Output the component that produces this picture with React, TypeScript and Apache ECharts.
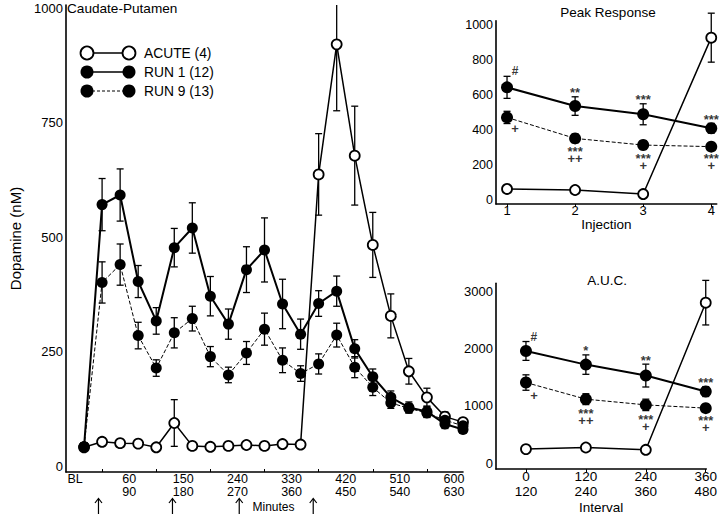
import React, { useEffect, useRef } from "react";
import * as echarts from "echarts";

const FONT = "'Liberation Sans', Arial, sans-serif";

// ---------- Main panel (Caudate-Putamen) ----------
const minutes = [0, 30, 60, 90, 120, 150, 180, 210, 240, 270, 300, 330, 360, 390, 420, 450, 480, 510, 540, 570, 600, 630];
const acute = [41, 53, 50, 49, 41, 94, 44, 42, 44, 46, 44, 48, 47, 637, 921, 678, 483, 328, 207, 150, 108, 96];
const acuteErr = [6, 9, 6, 6, 7, 51, 6, 5, 5, 6, 5, 6, 6, 89, 145, 108, 71, 48, 28, 20, 10, 8];
const run1 = [42, 571, 592, 403, 317, 477, 520, 371, 310, 429, 472, 354, 288, 355, 382, 256, 195, 150, 128, 119, 92, 80];
const run1Err = [8, 57, 57, 35, 29, 42, 55, 43, 33, 50, 70, 54, 33, 28, 33, 20, 17, 14, 12, 12, 10, 8];
const run9 = [42, 401, 440, 285, 214, 291, 322, 239, 199, 247, 299, 231, 202, 223, 286, 216, 172, 138, 126, 116, 100, 88];
const run9Err = [8, 45, 45, 29, 18, 33, 27, 22, 17, 25, 35, 27, 17, 22, 26, 23, 18, 12, 10, 10, 9, 8];

const mainLabelValues = [-15, 75, 165, 255, 345, 435, 525, 615];
const mainLabelTexts = ["BL", "60\n90", "150\n180", "240\n270", "330\n360", "420\n450", "510\n540", "600\n630"];
const mainTickValues = [30, 120, 210, 300, 390, 480, 570];
const mainYLabels = [0, 250, 500, 750, 1000];
const injectionArrowMinutes = [24, 147, 258, 381];

const legendNames = ["ACUTE (4)", "RUN 1 (12)", "RUN 9 (13)"];

// ---------- Peak Response ----------
const injection = [1, 2, 3, 4];
const peakAcute = [63, 57, 34, 928];
const peakAcuteErr = [10, 10, 6, 140];
const peakRun1 = [644, 537, 490, 410];
const peakRun1Err = [63, 53, 60, 28];
const peakRun9 = [472, 352, 314, 305];
const peakRun9Err = [35, 25, 25, 15];
const peakRun1Marks = ["#", "**", "***", "***"];
const peakRun9Marks = ["+", "***\n++", "***\n+", "***\n+"];
const peakYLabels = [0, 200, 400, 600, 800, 1000];

// ---------- A.U.C. ----------
const intervalPos = [1, 2, 3, 4];
const intervalLabels = ["0\n120", "120\n240", "240\n360", "360\n480"];
const aucAcute = [245, 273, 233, 2808];
const aucAcuteErr = [45, 40, 20, 390];
const aucRun1 = [1963, 1724, 1532, 1252];
const aucRun1Err = [165, 170, 200, 87];
const aucRun9 = [1410, 1119, 1019, 962];
const aucRun9Err = [135, 95, 100, 60];
const aucRun1Marks = ["#", "*", "**", "***"];
const aucRun9Marks = ["+", "***\n++", "***\n+", "***\n+"];
const aucYLabels = [0, 1000, 2000, 3000];

const BLACK = "#000";

function errorSeries(xs: number[], ys: number[], errs: number[], axis: number, cap: number, clip: boolean) {
  return {
    type: "custom",
    xAxisIndex: axis,
    yAxisIndex: axis,
    z: 2,
    clip,
    silent: true,
    data: xs.map((x, i) => [x, ys[i], errs[i]]),
    encode: { x: 0, y: 1 },
    renderItem: (_p: any, api: any) => {
      const x = api.value(0);
      const y = api.value(1);
      const e = api.value(2);
      const t = api.coord([x, y + e]);
      const b = api.coord([x, y - e]);
      const style = { stroke: BLACK, lineWidth: 1.3 };
      return {
        type: "group",
        children: [
          { type: "line", shape: { x1: t[0], y1: t[1], x2: b[0], y2: b[1] }, style },
          { type: "line", shape: { x1: t[0] - cap, y1: t[1], x2: t[0] + cap, y2: t[1] }, style },
          { type: "line", shape: { x1: b[0] - cap, y1: b[1], x2: b[0] + cap, y2: b[1] }, style },
        ],
      };
    },
  };
}

function lineSeries(name: string, xs: number[], ys: number[], axis: number, kind: "open" | "solid" | "dash", size: number) {
  const open = kind === "open";
  return {
    name,
    type: "line",
    xAxisIndex: axis,
    yAxisIndex: axis,
    data: xs.map((x, i) => [x, ys[i]]),
    symbol: "circle",
    symbolSize: open ? size - 1 : size,
    showAllSymbol: true,
    z: kind === "open" ? 3 : kind === "dash" ? 4 : 5,
    itemStyle: open
      ? { color: "#fff", borderColor: BLACK, borderWidth: 1.8 }
      : { color: BLACK, borderColor: BLACK, borderWidth: 0 },
    lineStyle: {
      color: BLACK,
      width: kind === "solid" ? 2 : kind === "open" ? 1.5 : 1,
      type: kind === "dash" ? [4, 2] : "solid",
    },
    emphasis: { disabled: true },
  };
}

function markSeries(xs: number[], ys: number[], errs: number[], marks: string[], dir: 1 | -1, axis: number) {
  const base = {
    fontFamily: FONT,
    color: BLACK,
    fontWeight: "bold",
    textBorderWidth: 0,
    textBorderColor: "transparent",
  };
  return {
    type: "scatter",
    xAxisIndex: axis,
    yAxisIndex: axis,
    color: BLACK,
    symbolSize: 0,
    silent: true,
    z: 6,
    itemStyle: { color: BLACK },
    data: xs.map((x, i) => {
      const m = marks[i];
      const single = m === "#" || m === "+";
      const multi = m.indexOf("\n") >= 0;
      let offset: number[];
      let formatter = m;
      if (single) offset = dir > 0 ? [8, -5] : [8, 5];
      else if (multi) {
        const parts = m.split("\n");
        formatter = `{a|${parts[0]}}\n{b|${parts[1]}}`;
        offset = [0, 13];
      } else offset = [0, -4];
      return {
        value: [x, ys[i] + dir * errs[i]],
        label: {
          show: true,
          position: [0, 0],
          align: "center",
          verticalAlign: "middle",
          offset,
          formatter,
          ...base,
          fontSize: m === "#" ? 12 : 13,
          rich: {
            a: { ...base, fontSize: 13, lineHeight: 6 },
            b: { ...base, fontSize: 13, lineHeight: 8 },
          },
        },
      };
    }),
  };
}

function yAxisCfg(grid: number, min: number, max: number, labels: number[], fontSize: number, extra: any = {}) {
  return {
    type: "value",
    gridIndex: grid,
    min,
    max,
    axisLine: { show: true, onZero: false, lineStyle: { color: BLACK, width: 1.6 } },
    axisTick: { show: false },
    splitLine: { show: false },
    axisLabel: {
      customValues: labels,
      formatter: (v: number) => String(v),
      color: BLACK,
      fontFamily: FONT,
      fontSize,
      margin: 3,
    },
    ...extra,
  };
}

function buildOption() {
  return {
    animation: false,
    backgroundColor: "#fff",
    textStyle: { fontFamily: FONT },
    grid: [
      { left: 60, top: 5, width: 403, height: 467 },
      { left: 496, top: 20.7, width: 220.7, height: 183.3 },
      { left: 496, top: 283.3, width: 214.7, height: 186 },
    ],
    xAxis: [
      {
        type: "value",
        gridIndex: 0,
        min: -30,
        max: 630,
        axisLine: { show: true, onZero: false, lineStyle: { color: BLACK, width: 1.6 } },
        axisTick: { show: true, customValues: mainTickValues, inside: true, length: 3, lineStyle: { color: BLACK } },
        splitLine: { show: false },
        axisLabel: {
          customValues: mainLabelValues,
          formatter: (v: number) => {
            const k = mainLabelValues.indexOf(v);
            return k >= 0 ? mainLabelTexts[k] : "";
          },
          color: BLACK,
          fontFamily: FONT,
          fontSize: 12.5,
          lineHeight: 13.5,
          margin: 0,
        },
      },
      {
        type: "value",
        gridIndex: 1,
        min: 0.838,
        max: 4.08,
        axisLine: { show: true, onZero: false, lineStyle: { color: BLACK, width: 1.6 } },
        axisTick: { show: true, customValues: injection, length: 3, lineStyle: { color: BLACK } },
        splitLine: { show: false },
        axisLabel: {
          customValues: injection,
          formatter: (v: number) => String(v),
          color: BLACK,
          fontFamily: FONT,
          fontSize: 13,
          lineHeight: 13,
          margin: 0,
        },
        name: "Injection",
        nameLocation: "middle",
        nameGap: 11,
        nameTextStyle: { color: BLACK, fontFamily: FONT, fontSize: 13.5 },
      },
      {
        type: "value",
        gridIndex: 2,
        min: 0.5,
        max: 4.01,
        axisLine: { show: true, onZero: false, lineStyle: { color: BLACK, width: 1.6 } },
        axisTick: { show: true, customValues: intervalPos, length: 3, lineStyle: { color: BLACK } },
        splitLine: { show: false },
        axisLabel: {
          customValues: intervalPos,
          formatter: (v: number) => {
            const k = intervalPos.indexOf(v);
            return k >= 0 ? intervalLabels[k] : "";
          },
          color: BLACK,
          fontFamily: FONT,
          fontSize: 13.5,
          lineHeight: 15,
          margin: 0,
        },
        name: "Interval",
        nameLocation: "middle",
        nameGap: 28,
        nameTextStyle: { color: BLACK, fontFamily: FONT, fontSize: 13.5 },
      },
    ],
    yAxis: [
      yAxisCfg(0, -13, 1007, mainYLabels, 13, {
        name: "Dopamine (nM)",
        nameLocation: "middle",
        nameGap: 43,
        nameTextStyle: { color: BLACK, fontFamily: FONT, fontSize: 15 },
      }),
      yAxisCfg(1, -23, 1025, peakYLabels, 12.5),
      yAxisCfg(2, -105, 3147, aucYLabels, 13),
    ],
    series: [
      errorSeries(minutes, acute, acuteErr, 0, 3.5, true),
      errorSeries(minutes, run9, run9Err, 0, 3.5, true),
      errorSeries(minutes, run1, run1Err, 0, 3.5, true),
      lineSeries("ACUTE (4)", minutes, acute, 0, "open", 11),
      lineSeries("RUN 9 (13)", minutes, run9, 0, "dash", 11),
      lineSeries("RUN 1 (12)", minutes, run1, 0, "solid", 11),

      errorSeries(injection, peakAcute, peakAcuteErr, 1, 3.5, false),
      errorSeries(injection, peakRun9, peakRun9Err, 1, 3.5, false),
      errorSeries(injection, peakRun1, peakRun1Err, 1, 3.5, false),
      lineSeries("ACUTE (4)", injection, peakAcute, 1, "open", 11),
      lineSeries("RUN 9 (13)", injection, peakRun9, 1, "dash", 12),
      lineSeries("RUN 1 (12)", injection, peakRun1, 1, "solid", 12),
      markSeries(injection, peakRun1, peakRun1Err, peakRun1Marks, 1, 1),
      markSeries(injection, peakRun9, peakRun9Err, peakRun9Marks, -1, 1),

      errorSeries(intervalPos, aucAcute, aucAcuteErr, 2, 3.5, false),
      errorSeries(intervalPos, aucRun9, aucRun9Err, 2, 3.5, false),
      errorSeries(intervalPos, aucRun1, aucRun1Err, 2, 3.5, false),
      lineSeries("ACUTE (4)", intervalPos, aucAcute, 2, "open", 11),
      lineSeries("RUN 9 (13)", intervalPos, aucRun9, 2, "dash", 12),
      lineSeries("RUN 1 (12)", intervalPos, aucRun1, 2, "solid", 12),
      markSeries(intervalPos, aucRun1, aucRun1Err, aucRun1Marks, 1, 2),
      markSeries(intervalPos, aucRun9, aucRun9Err, aucRun9Marks, -1, 2),
    ],
  };
}

function legendGraphics() {
  const rows = [
    { y: 53, open: true, dashed: false },
    { y: 72, open: false, dashed: false },
    { y: 91, open: false, dashed: true },
  ];
  const els: any[] = [];
  rows.forEach((r, i) => {
    els.push({
      type: "line",
      shape: { x1: 87, y1: r.y, x2: 129, y2: r.y },
      style: { stroke: BLACK, lineWidth: r.dashed ? 1 : 1.6, lineDash: r.dashed ? [3, 2] : null },
      z: 10,
    });
    [87, 129].forEach((cx) =>
      els.push({
        type: "circle",
        shape: { cx, cy: r.y, r: 6.5 },
        style: r.open ? { fill: "#fff", stroke: BLACK, lineWidth: 1.8 } : { fill: BLACK, stroke: BLACK, lineWidth: 0 },
        z: 11,
      })
    );
    els.push({
      type: "text",
      x: 144,
      y: r.y,
      style: { text: legendNames[i], fill: BLACK, font: `13.8px ${FONT}`, verticalAlign: "middle", align: "left" },
      z: 11,
    });
  });
  return els;
}

function titleGraphics() {
  return [
    { type: "text", x: 67, y: 8, style: { text: "Caudate-Putamen", fill: BLACK, font: `13.6px ${FONT}`, verticalAlign: "middle", align: "left" } },
    { type: "text", x: 608, y: 12, style: { text: "Peak Response", fill: BLACK, font: `13.5px ${FONT}`, verticalAlign: "middle", align: "center" } },
    { type: "text", x: 607, y: 280, style: { text: "A.U.C.", fill: BLACK, font: `13.5px ${FONT}`, verticalAlign: "middle", align: "center" } },
  ];
}

export default function App() {
  const ref = useRef<HTMLDivElement>(null);
  useEffect(() => {
    if (!ref.current) return;
    const chart = echarts.init(ref.current, null, { renderer: "svg" });
    chart.setOption(buildOption() as any);
    const arrows: any[] = injectionArrowMinutes.map((t) => {
      const px = chart.convertToPixel({ xAxisIndex: 0 } as any, t) as unknown as number;
      return {
        type: "group",
        children: [
          { type: "line", shape: { x1: px, y1: 499, x2: px, y2: 514 }, style: { stroke: BLACK, lineWidth: 1.2 } },
          { type: "polyline", shape: { points: [[px - 3.5, 503], [px, 498.5], [px + 3.5, 503]] }, style: { stroke: BLACK, lineWidth: 1.2, fill: null } },
        ],
      };
    });
    const minutesX = chart.convertToPixel({ xAxisIndex: 0 } as any, 315) as unknown as number;
    chart.setOption({
      graphic: [
        ...legendGraphics(),
        ...titleGraphics(),
        ...arrows,
        { type: "text", x: minutesX, y: 507, style: { text: "Minutes", fill: BLACK, font: `12px ${FONT}`, verticalAlign: "middle", align: "center" } },
      ],
    });
    return () => chart.dispose();
  }, []);
  return <div ref={ref} style={{ position: "absolute", left: 0, top: 0, width: 720, height: 515 }} />;
}
